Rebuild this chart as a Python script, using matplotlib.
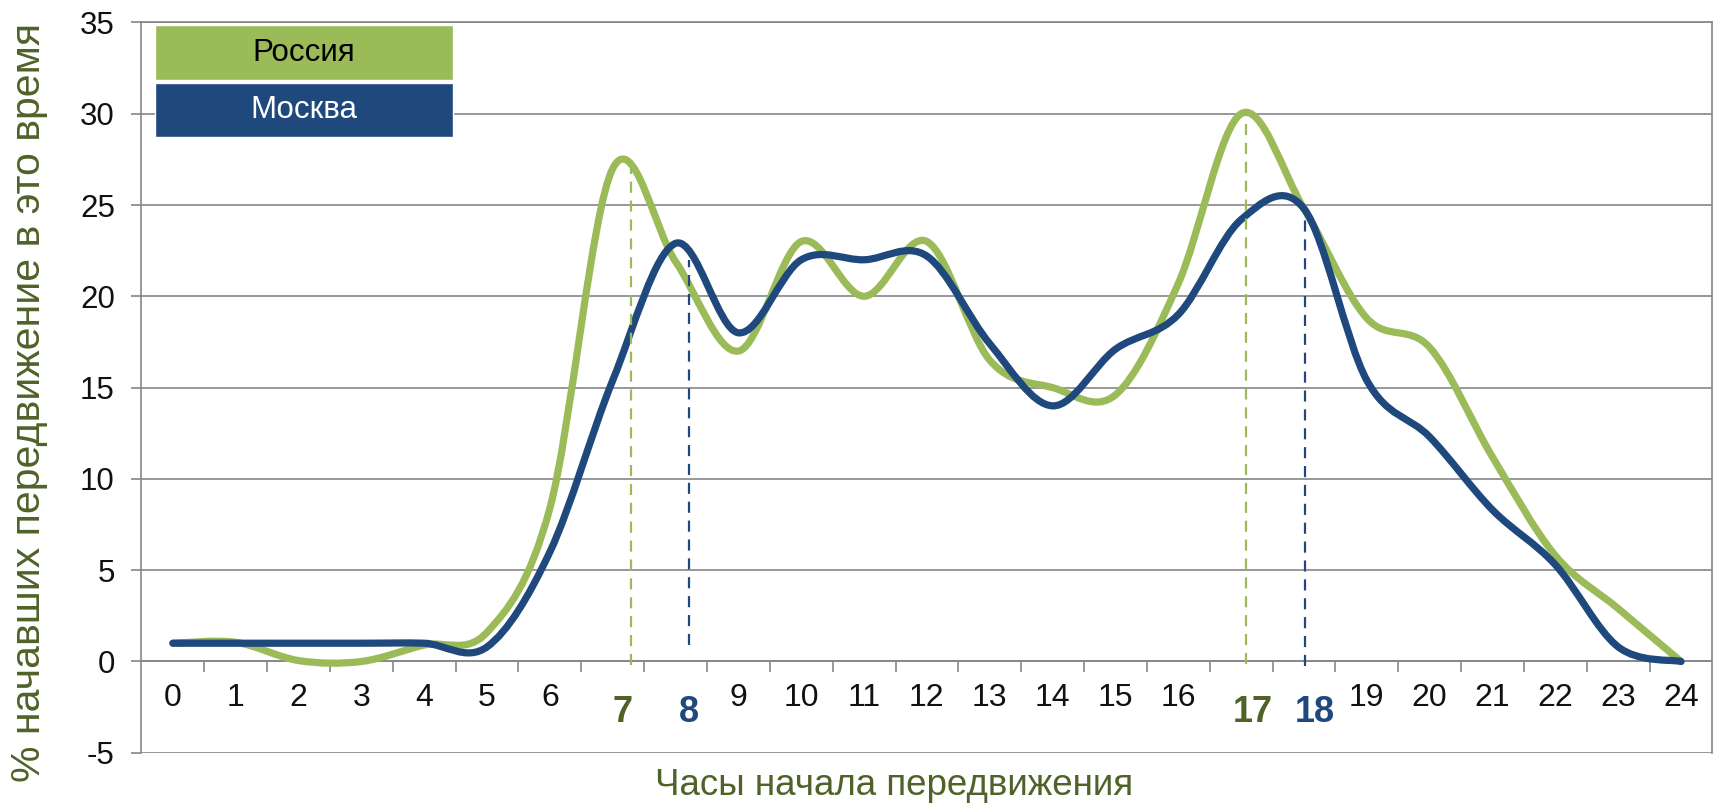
import numpy as np
import matplotlib.pyplot as plt
from matplotlib.path import Path
from matplotlib.patches import PathPatch, Rectangle

plt.rcParams['font.family'] = ['Liberation Sans', 'DejaVu Sans']
plt.rcParams['axes.unicode_minus'] = False

# hours of the day and share of trips started (%)
hours = list(range(25))
russia = [1.0, 1.05, 0.05, 0.0, 0.9, 1.6, 8.4, 27.0, 21.9, 17.0, 23.0, 20.0, 23.0,
          16.5, 15.0, 14.6, 20.7, 30.0, 24.8, 18.8, 17.2, 11.2, 5.8, 2.9, 0.0]
moscow = [1.0, 1.0, 1.0, 1.0, 1.0, 0.8, 6.0, 15.4, 22.9, 18.0, 22.0, 22.0, 22.2,
          17.4, 14.0, 17.1, 19.0, 24.2, 24.8, 15.4, 12.3, 8.3, 5.3, 0.8, 0.0]

# peak markers: position, top, bottom of the dashed line, label
peak_hours = [7.29, 8.22, 17.08, 18.02]
peak_tops = [27.4, 22.0, 30.0, 24.6]
peak_bottoms = [-0.2, 0.9, -0.15, -0.25]
peak_labels = ['7', '8', '17', '18']
peak_label_x = [7.15, 8.22, 17.18, 18.18]

GREEN = '#9bbb59'
BLUE = '#1f497d'
DARK_GREEN = '#4f6228'
GRID = '#868686'


def smooth_path(x, y):
    # excel-like smoothed line, bezier segments through every point
    x = np.asarray(x, float)
    y = np.asarray(y, float)
    n = len(x)
    verts = [(x[0], y[0])]
    codes = [Path.MOVETO]
    for i in range(n - 1):
        a = max(i - 1, 0)
        b = min(i + 2, n - 1)
        c1 = (x[i] + (x[i + 1] - x[a]) / 6, y[i] + (y[i + 1] - y[a]) / 6)
        c2 = (x[i + 1] - (x[b] - x[i]) / 6, y[i + 1] - (y[b] - y[i]) / 6)
        verts += [c1, c2, (x[i + 1], y[i + 1])]
        codes += [Path.CURVE4] * 3
    return Path(verts, codes)


fig = plt.figure(figsize=(17.25, 8.09), dpi=100)
ax = fig.add_axes([0.0820, 0.0695, 0.9107, 0.9028])

ax.set_xlim(-0.5, 24.5)
ax.set_ylim(-5, 35)
ax.set_axisbelow(True)

# grid + frame
ax.set_yticks(range(-5, 40, 5))
ax.yaxis.grid(True, color=GRID, lw=1.2)
ax.spines['bottom'].set_position(('data', 0))
for s in ['left', 'right', 'bottom', 'top']:
    ax.spines[s].set_color(GRID)
    ax.spines[s].set_linewidth(1.2)

ax.tick_params(axis='y', direction='out', length=7.2, width=1.2, color=GRID,
               labelsize=22.5, pad=12, labelcolor='#111111')

# category axis at y=0: ticks between hours, labels under each hour
ax.set_xticks(np.arange(0.5, 24, 1))
ax.set_xticklabels([])
ax.tick_params(axis='x', which='major', direction='out', length=8, width=1.2, color=GRID)
xlabels = ['' if str(h) in peak_labels else str(h) for h in hours]
ax.set_xticks(hours, xlabels, minor=True)
ax.tick_params(axis='x', which='minor', length=0, pad=15.5, labelsize=23, labelcolor='#111111')

# curves
ax.add_patch(PathPatch(smooth_path(hours, russia), fill=False, edgecolor=GREEN, lw=5.2,
                       capstyle='round', joinstyle='round', zorder=3))
ax.add_patch(PathPatch(smooth_path(hours, moscow), fill=False, edgecolor=BLUE, lw=5.2,
                       capstyle='round', joinstyle='round', zorder=4))

# dashed peak lines and bold labels
for i in range(len(peak_hours)):
    col = GREEN if i % 2 == 0 else BLUE
    txt_col = DARK_GREEN if i % 2 == 0 else BLUE
    ax.vlines(peak_hours[i], peak_bottoms[i], peak_tops[i], colors=col, lw=1.6,
              linestyles=(0, (5, 3.5)), zorder=5)
    ax.text(peak_label_x[i], -2.8, peak_labels[i], color=txt_col, fontsize=26,
            fontweight='bold', ha='center', va='center')

# legend boxes
ax.add_patch(Rectangle((0.0087, 0.9211), 0.1897, 0.0753, transform=ax.transAxes,
                       facecolor=GREEN, edgecolor='white', lw=1, zorder=6))
ax.add_patch(Rectangle((0.0087, 0.8431), 0.1897, 0.0739, transform=ax.transAxes,
                       facecolor=BLUE, edgecolor='white', lw=1, zorder=6))
ax.text(0.1035, 0.9587, 'Россия', transform=ax.transAxes, fontsize=22.5, color='black',
        ha='center', va='center', zorder=7)
ax.text(0.1035, 0.8800, 'Москва', transform=ax.transAxes, fontsize=22.5, color='white',
        ha='center', va='center', zorder=7)

ax.set_ylabel('% начавших передвижение в это время', fontsize=29.5, color=DARK_GREEN)
ax.yaxis.set_label_coords(-0.0595, 0.479)
ax.set_xlabel('Часы начала передвижения', fontsize=26.5, color=DARK_GREEN)
ax.xaxis.set_label_coords(0.479, -0.021)

fig.savefig('out.png', dpi=100)
